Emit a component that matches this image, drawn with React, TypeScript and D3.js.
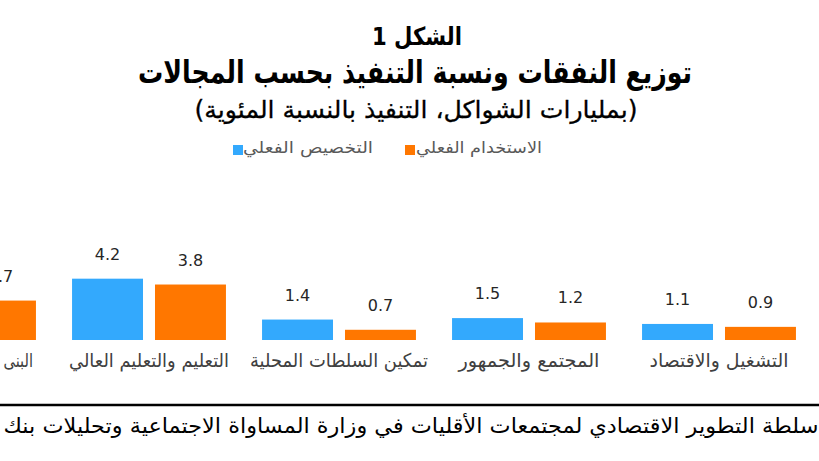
import React from 'react';
import * as d3 from 'd3';

// categories left to right as they appear (the chart is cut on the left)
const categories = [
  'البنى التحتية والمواصلات',
  'التعليم والتعليم العالي',
  'تمكين السلطات المحلية',
  'المجتمع والجمهور',
  'التشغيل والاقتصاد',
];
const allocation = [3.0, 4.2, 1.4, 1.5, 1.1]; // التخصيص الفعلي
const usage = [2.7, 3.8, 0.7, 1.2, 0.9]; // الاستخدام الفعلي
const seriesKeys = ['alloc', 'use'];
const seriesNames = ['التخصيص الفعلي', 'الاستخدام الفعلي'];
const seriesColors = ['#33a9fd', '#ff7700'];
const labelWidths = [148, 160, 178, 141, 139];

const titleLines = ['الشكل 1', 'توزيع النفقات ونسبة التنفيذ بحسب المجالات', '(بمليارات الشواكل، التنفيذ بالنسبة المئوية)'];
const sourceText = 'سلطة التطوير الاقتصادي لمجتمعات الأقليات في وزارة المساواة الاجتماعية وتحليلات بنك';
const sourceTail = 'إسرائيل';

const W = 819;
const H = 461;
const FONT = '"DejaVu Sans", Arial, sans-serif';

export default function App() {
  const x0 = d3.scaleBand<string>().domain(categories).range([-136, 814]);
  const bw = x0.bandwidth();
  const x1 = d3.scaleBand<string>().domain(seriesKeys).range([bw * 0.095, bw * 0.905]).paddingInner(0.1446);
  const y = d3.scaleLinear().domain([0, 4.5]).range([340, 340 - 4.5 * 14.6]);
  const fmt = d3.format('.1f');

  return (
    <svg width={W} height={H} style={{ position: 'fixed', left: 0, top: 0, background: '#fff' }} fontFamily={FONT}>
      <rect width={W} height={H} fill="#fff" />

      {/* title */}
      <text x={417} y={45} textAnchor="middle" direction="rtl" fontSize={25} fontWeight="bold" fill="#000" textLength={90} lengthAdjust="spacingAndGlyphs">{titleLines[0]}</text>
      <text x={415} y={83} textAnchor="middle" direction="rtl" fontSize={31} fontWeight="bold" fill="#000" textLength={554} lengthAdjust="spacingAndGlyphs">{titleLines[1]}</text>
      <text x={416} y={118} textAnchor="middle" direction="rtl" fontSize={24} fill="#000" stroke="#000" strokeWidth={0.3} textLength={443} lengthAdjust="spacingAndGlyphs">{titleLines[2]}</text>

      {/* legend */}
      {[[233, 308, 130], [405, 479, 126]].map(([sx, tx, tw], i) => (
        <g key={i}>
          <rect x={sx} y={145} width={10} height={10} fill={seriesColors[i]} />
          <text x={tx} y={153} textAnchor="middle" direction="rtl" fontSize={16} fill="#595959" textLength={tw} lengthAdjust="spacingAndGlyphs">{seriesNames[i]}</text>
        </g>
      ))}

      {/* bars */}
      {categories.map((c, ci) => {
        const vals = [allocation[ci], usage[ci]];
        return (
          <g key={c} transform={`translate(${x0(c)},0)`}>
            {seriesKeys.map((k, si) => {
              const bx = x1(k)!;
              const v = vals[si];
              return (
                <g key={k}>
                  <rect x={bx} y={y(v)} width={x1.bandwidth()} height={y(0) - y(v)} fill={seriesColors[si]} />
                  <text x={bx + x1.bandwidth() / 2} y={y(v) - 19} textAnchor="middle" fontSize={16} fill="#262626">{fmt(v)}</text>
                </g>
              );
            })}
            <text x={bw / 2} y={367} textAnchor="middle" direction="rtl" fontSize={19} fill="#404040" textLength={labelWidths[ci]} lengthAdjust="spacingAndGlyphs">{c}</text>
          </g>
        );
      })}

      {/* source line */}
      <line x1={0} x2={W} y1={405} y2={405} stroke="#000" strokeWidth={2.5} />
      <text x={411} y={433} textAnchor="middle" direction="rtl" fontSize={21} fill="#000" textLength={815} lengthAdjust="spacingAndGlyphs">{sourceText}</text>
      <text x={-36} y={433} textAnchor="middle" direction="rtl" fontSize={21} fill="#000">{sourceTail}</text>
    </svg>
  );
}
